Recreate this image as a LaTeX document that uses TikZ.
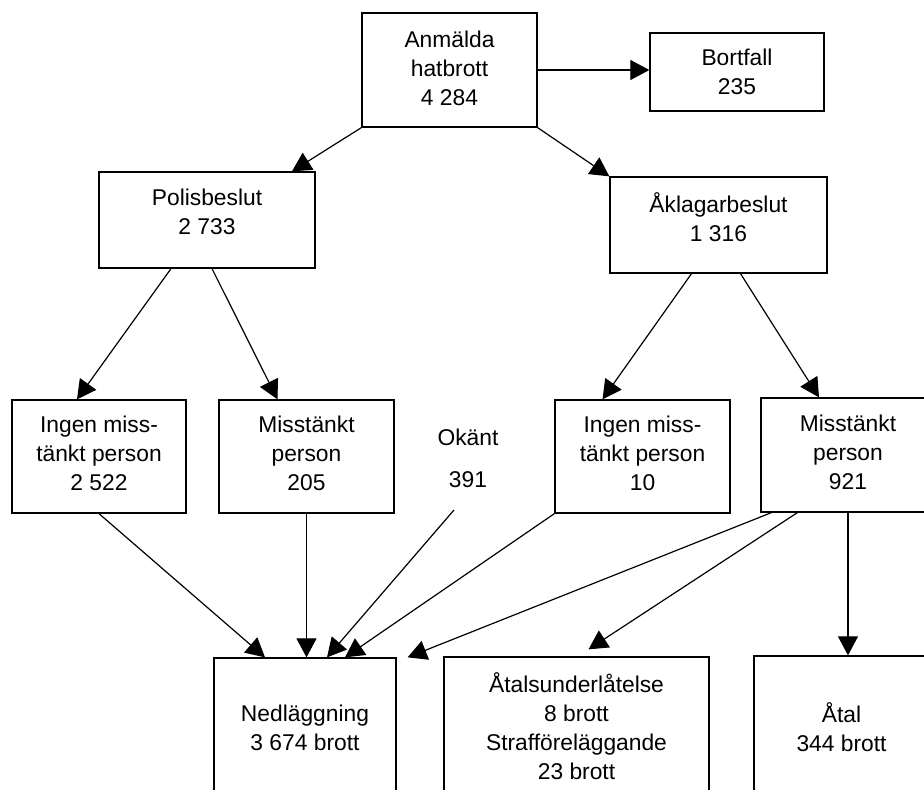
\documentclass[tikz,border=0pt]{standalone}
\usepackage{fontspec}
\setmainfont{Liberation Sans}
\usetikzlibrary{arrows.meta}
\begin{document}
\begin{tikzpicture}[x=1pt,y=-1pt,
  box/.style={draw,line width=1.3pt,inner sep=0pt},
  txt/.style={align=center,inner sep=0pt,font=\fontsize{22.8}{29}\selectfont},
  arr/.style={line width=1.2pt,-{Triangle[length=19pt,width=20pt]}}]
\useasboundingbox (0,0) rectangle (924,790);
\clip (0,0) rectangle (924,790);
% boxes
\node[box,minimum width=175pt,minimum height=114pt] (anm) at (449.5,70) {};
\node[box,minimum width=174pt,minimum height=78pt] (bort) at (737,72) {};
\node[box,minimum width=216pt,minimum height=96pt] (polis) at (207,220) {};
\node[box,minimum width=217pt,minimum height=96pt] (akl) at (718.5,225) {};
\node[box,minimum width=174pt,minimum height=113pt] (ingenL) at (99,456.5) {};
\node[box,minimum width=175pt,minimum height=113pt] (misstL) at (306.5,456.5) {};
\node[box,minimum width=175pt,minimum height=113pt] (ingenR) at (642.5,456.5) {};
\node[box,minimum width=174pt,minimum height=114pt] (misstR) at (848,455) {};
\node[box,minimum width=182pt,minimum height=136pt] (nedl) at (305,726) {};
\node[box,minimum width=265pt,minimum height=138pt] (atalu) at (576.5,726) {};
\node[box,minimum width=175pt,minimum height=140pt] (atal) at (841.5,726) {};
% texts
\node[txt] (anm-t) at (449.5,68) {Anmälda\\hatbrott\\4 284};
\node[txt] (bort-t) at (737,72) {Bortfall\\235};
\node[txt] (polis-t) at (207,212) {Polisbeslut\\2 733};
\node[txt] (akl-t) at (718.5,217.5) {Åklagarbeslut\\1 316};
\node[txt] (ingenL-t) at (99,453) {Ingen miss-\\tänkt person\\2 522};
\node[txt] (misstL-t) at (306.5,453) {Misstänkt\\person\\205};
\node[txt] (okant) at (468,458) {Okänt\\[13pt]391};
\node[txt] (ingenR-t) at (642.5,453) {Ingen miss-\\tänkt person\\10};
\node[txt] (misstR-t) at (848,452) {Misstänkt\\person\\921};
\node[txt] (nedl-t) at (305,727.5) {Nedläggning\\3 674 brott};
\node[txt] (atalu-t) at (576.5,726) {Åtalsunderlåtelse\\8 brott\\Strafföreläggande\\23 brott};
\node[txt] (atal-t) at (841.5,727.5) {Åtal\\344 brott};
\coordinate (okant-end) at (454,510);
% arrows
\draw[arr] (anm.east) -- (anm.east -| bort.west);
\draw[arr] (anm.south west) -- ([xshift=85pt]polis.north);
\draw[arr] (anm.south east) -- (akl.north west);
\draw[arr] ([xshift=-36pt]polis.south) -- ([xshift=-22pt]ingenL.north);
\draw[arr] ([xshift=5pt]polis.south) -- ([xshift=-29pt]misstL.north);
\draw[arr] ([xshift=-27pt]akl.south) -- ([xshift=-40pt]ingenR.north);
\draw[arr] ([xshift=22pt]akl.south) -- ([xshift=-29pt]misstR.north);
\draw[arr] (ingenL.south) -- ([xshift=-40pt]nedl.north);
\draw[arr] (misstL.south) -- (misstL.south |- nedl.north);
\draw[arr] (okant-end) -- ([xshift=22pt]nedl.north);
\draw[arr] (ingenR.south west) -- ([xshift=40pt]nedl.north);
\draw[arr] ([xshift=11pt]misstR.south west) -- ([xshift=11pt]nedl.north east);
\draw[arr] ([xshift=37pt]misstR.south west) -- ([xshift=12pt,yshift=7pt]atalu.north);
\draw[arr] (misstR.south) -- (misstR.south |- atal.north);
\end{tikzpicture}
\end{document}
